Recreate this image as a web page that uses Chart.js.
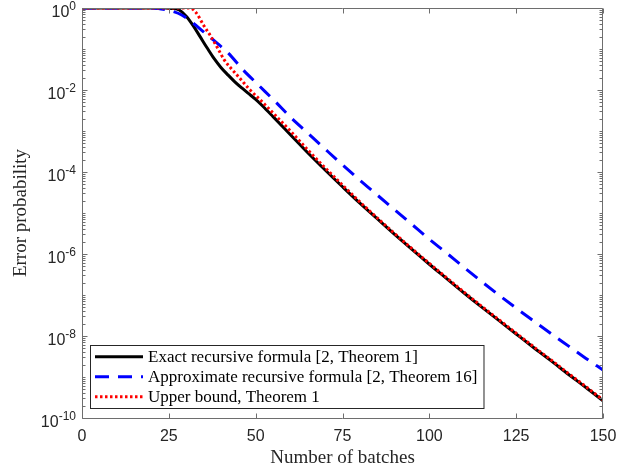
<!DOCTYPE html>
<html>
<head>
<meta charset="utf-8">
<script src="https://cdn.jsdelivr.net/npm/chart.js@4.4.1/dist/chart.umd.min.js"></script>
<style>
  html, body { margin: 0; padding: 0; background: #fff; }
  #wrap { width: 634px; height: 469px; }
</style>
</head>
<body>
<div id="wrap"><canvas id="errChart" width="634" height="469"></canvas></div>
<script>
// values
const exactBatches = [0, 10, 20, 24, 26, 28, 30, 32, 34, 36, 38, 40, 42, 44, 46, 48, 50, 52, 55, 60, 65, 70, 75, 80, 85, 90, 95, 100, 105, 110, 115, 120, 125, 130, 135, 140, 145, 150];
const exactError = [1, 1, 1, 0.999, 0.977, 0.891, 0.631, 0.372, 0.200, 0.107, 0.0589, 0.0355, 0.0234, 0.0158, 0.0112, 8.13e-3, 5.89e-3, 4.07e-3, 2.24e-3, 8.13e-4, 2.95e-4, 1.12e-4, 4.37e-5, 1.74e-5, 7.24e-6, 3.02e-6, 1.29e-6, 5.62e-7, 2.51e-7, 1.12e-7, 5.13e-8, 2.40e-8, 1.12e-8, 5.25e-9, 2.51e-9, 1.17e-9, 5.62e-10, 2.63e-10];

const approxBatches = [0, 10, 20, 22, 24, 26, 28.7, 32, 35, 37.8, 42.1, 46.4, 50.8, 55.6, 60, 65, 70, 74, 80, 85, 90, 95, 100, 105, 110, 115, 120, 125, 130, 135, 140, 145, 150];
const approxError = [1, 1, 1, 0.977, 0.912, 0.832, 0.676, 0.427, 0.263, 0.166, 0.0794, 0.0309, 0.0132, 5.25e-3, 2.19e-3, 8.91e-4, 3.63e-4, 1.78e-4, 6.31e-5, 2.75e-5, 1.20e-5, 5.25e-6, 2.29e-6, 1.05e-6, 4.68e-7, 2.14e-7, 1.0e-7, 4.79e-8, 2.34e-8, 1.15e-8, 5.75e-9, 2.88e-9, 1.48e-9];

const boundBatches = [0, 10, 20, 30, 31.5, 33, 35, 37, 39, 41, 43, 45.5, 48.4, 51.3, 55, 60, 65, 70, 75, 80, 85, 90, 95, 100, 105, 110, 115, 120, 125, 130, 135, 140, 145, 150];
const boundError = [1, 1, 1, 1, 0.977, 0.741, 0.380, 0.209, 0.107, 0.0537, 0.0331, 0.0191, 0.0100, 5.75e-3, 2.75e-3, 1.0e-3, 3.47e-4, 1.26e-4, 4.79e-5, 1.86e-5, 7.59e-6, 3.16e-6, 1.35e-6, 5.89e-7, 2.63e-7, 1.17e-7, 5.37e-8, 2.51e-8, 1.17e-8, 5.50e-9, 2.63e-9, 1.23e-9, 5.89e-10, 2.75e-10];

const seriesLabels = [
    'Exact recursive formula [2, Theorem 1]',
    'Approximate recursive formula [2, Theorem 16]',
    'Upper bound, Theorem 1'
];

const xTickValues = [0, 25, 50, 75, 100, 125, 150];
const yTickValues = [1, 1e-2, 1e-4, 1e-6, 1e-8, 1e-10];
const yTickExponents = ['0', '-2', '-4', '-6', '-8', '-10'];
const minorMultipliers = [2, 3, 4, 5, 6, 7, 8, 9];

const toPoints = (xs, ys) => xs.map((v, i) => ({x: v, y: ys[i]}));

const sansFont = '"Liberation Sans", Arial, sans-serif';
const serifFont = '"Liberation Serif", "Times New Roman", serif';

// matlab style box, inward ticks, 10^n labels and the legend
const matlabAxes = {
    id: 'matlabAxes',
    afterDatasetsDraw(chart) {
        const ctx = chart.ctx;
        const a = chart.chartArea;
        const xs = chart.scales.x;
        const ys = chart.scales.y;
        const L = a.left + 0.5, R = a.right - 0.5, T = a.top + 0.5, B = a.bottom + 0.5;

        ctx.save();
        ctx.strokeStyle = '#6e6e6e';
        ctx.lineWidth = 1;
        ctx.setLineDash([]);
        ctx.beginPath();
        ctx.rect(L, T, R - L, B - T);

        xTickValues.forEach(v => {
            const px = Math.round(xs.getPixelForValue(v)) + 0.5;
            ctx.moveTo(px, B); ctx.lineTo(px, B - 5);
            ctx.moveTo(px, T); ctx.lineTo(px, T + 5);
        });

        yTickValues.forEach(v => {
            const py = Math.round(ys.getPixelForValue(v)) + 0.5;
            ctx.moveTo(L, py); ctx.lineTo(L + 5, py);
            ctx.moveTo(R, py); ctx.lineTo(R - 5, py);
        });

        for (let e = -10; e < 0; e++) {
            const decade = Math.pow(10, e);
            const vals = minorMultipliers.map(m => m * decade);
            if (e % 2 !== 0) vals.push(decade);
            vals.forEach(v => {
                const py = Math.round(ys.getPixelForValue(v)) + 0.5;
                ctx.moveTo(L, py); ctx.lineTo(L + 3, py);
                ctx.moveTo(R, py); ctx.lineTo(R - 3, py);
            });
        }
        ctx.stroke();

        // y tick labels as 10 with a raised exponent
        ctx.fillStyle = '#262626';
        ctx.textBaseline = 'middle';
        const labelRight = a.left - 6;
        yTickValues.forEach((v, i) => {
            const py = ys.getPixelForValue(v);
            ctx.font = '12px ' + sansFont;
            const ew = ctx.measureText(yTickExponents[i]).width;
            ctx.textAlign = 'left';
            ctx.fillText(yTickExponents[i], labelRight - ew, py - 1);
            ctx.font = '16px ' + sansFont;
            ctx.textAlign = 'right';
            ctx.fillText('10', labelRight - ew, py + 5);
        });

        // legend in the lower left corner
        ctx.font = '17px ' + serifFont;
        const textW = Math.max(...seriesLabels.map(s => ctx.measureText(s).width));
        const boxL = a.left + 8;
        const boxT = a.bottom - 73;
        const boxW = 58 + textW + 6;
        const boxH = 63;
        ctx.fillStyle = '#fff';
        ctx.fillRect(boxL, boxT, boxW, boxH);
        ctx.strokeStyle = '#262626';
        ctx.lineWidth = 1;
        ctx.strokeRect(boxL + 0.5, boxT + 0.5, boxW, boxH);

        chart.data.datasets.forEach((ds, i) => {
            const rowY = boxT + 11.7 + i * 20;
            ctx.strokeStyle = ds.borderColor;
            ctx.lineWidth = ds.borderWidth;
            ctx.setLineDash(ds.borderDash || []);
            ctx.beginPath();
            ctx.moveTo(boxL + 5, rowY);
            ctx.lineTo(boxL + 53, rowY);
            ctx.stroke();
            ctx.setLineDash([]);
            ctx.fillStyle = '#000';
            ctx.textAlign = 'left';
            ctx.textBaseline = 'middle';
            ctx.fillText(ds.label, boxL + 58, rowY + 1);
        });
        ctx.restore();
    }
};

const errConfig = {
    type: 'line',
    data: {
        datasets: [{
            label: seriesLabels[0],
            data: toPoints(exactBatches, exactError),
            borderColor: '#000000',
            borderWidth: 3,
            order: 2
        }, {
            label: seriesLabels[1],
            data: toPoints(approxBatches, approxError),
            borderColor: '#0000ff',
            borderWidth: 3,
            borderDash: [14, 9],
            order: 1
        }, {
            label: seriesLabels[2],
            data: toPoints(boundBatches, boundError),
            borderColor: '#ff0000',
            borderWidth: 3,
            borderDash: [2.5, 2.5],
            order: 0
        }]
    },
    options: {
        responsive: false,
        animation: false,
        devicePixelRatio: 1,
        cubicInterpolationMode: 'monotone',
        elements: { point: { radius: 0 } },
        layout: { padding: { top: 8, right: 31, left: 0, bottom: 0 } },
        plugins: {
            legend: { display: false },
            tooltip: { enabled: false }
        },
        scales: {
            x: {
                type: 'linear',
                min: 0,
                max: 150,
                grid: { display: false, drawTicks: false },
                border: { display: false },
                afterBuildTicks: s => { s.ticks = xTickValues.map(v => ({value: v})); },
                afterFit: s => { s.height = 51; },
                ticks: {
                    color: '#262626',
                    font: { family: sansFont, size: 16 },
                    padding: 9,
                    maxRotation: 0,
                    autoSkip: false
                },
                title: {
                    display: true,
                    text: 'Number of batches',
                    color: '#262626',
                    font: { family: serifFont, size: 19 },
                    padding: { top: 0, bottom: 0 }
                }
            },
            y: {
                type: 'logarithmic',
                min: 1e-10,
                max: 1,
                grid: { display: false, drawTicks: false },
                border: { display: false },
                ticks: { display: false },
                afterFit: s => { s.width = 82; },
                title: {
                    display: true,
                    text: 'Error probability',
                    color: '#262626',
                    font: { family: serifFont, size: 19 },
                    padding: { top: 10, bottom: 0 }
                }
            }
        }
    },
    plugins: [matlabAxes]
};

const errChart = new Chart(document.getElementById('errChart'), errConfig);
</script>
</body>
</html>
